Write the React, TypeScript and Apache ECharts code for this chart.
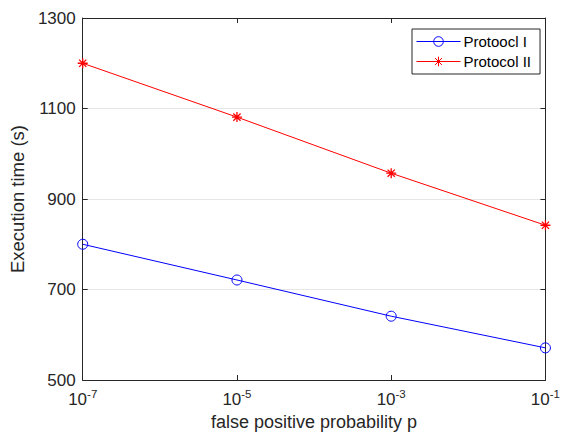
import React, { useEffect, useRef } from "react";
import * as echarts from "echarts";

const probabilities = [1e-7, 1e-5, 1e-3, 1e-1];
const protocolI = [800, 721, 641, 571];
const protocolII = [1200, 1081, 957, 842];
const xTicks = [1e-7, 1e-5, 1e-3, 1e-1];
const yTicks = [500, 700, 900, 1100, 1300];

const asterisk =
  "path://M0,-5L0,5M-5,0L5,0M-3.6,-3.6L3.6,3.6M-3.6,3.6L3.6,-3.6";

export default function App() {
  const ref = useRef<HTMLDivElement>(null);
  useEffect(() => {
    if (!ref.current) return;
    document.body.style.margin = "0";
    const chart = echarts.init(ref.current, null, { renderer: "svg" });
    const font = "Liberation Sans, Arial, Helvetica, sans-serif";
    const axisColor = "#262626";
    const fmtX = (v: number) => {
      const e = Math.round(Math.log10(v));
      return "{b|10}{s|" + e + "}";
    };
    chart.setOption({
      animation: false,
      textStyle: { fontFamily: font },
      grid: { left: 81, right: 10, top: 18, bottom: 59 },
      legend: {
        left: 412,
        top: 29,
        orient: "vertical",
        backgroundColor: "#fff",
        borderColor: axisColor,
        borderWidth: 1,
        borderRadius: 0,
        padding: [5, 9, 5, 4],
        itemGap: 5,
        itemWidth: 44,
        itemHeight: 12,
        lineStyle: { width: 1 },
        itemStyle: { borderWidth: 1 },
        textStyle: { fontSize: 15, color: "#000", fontFamily: font, padding: [0, 0, 0, -2] },
        data: ["Protoocl I", "Protocol II"],
      },
      xAxis: [
        {
          type: "log",
          logBase: 10,
          min: 1e-7,
          max: 1e-1,
          name: "false positive probability p",
          nameLocation: "middle",
          nameGap: 27,
          nameTextStyle: { fontSize: 18, color: axisColor, fontFamily: font },
          axisLine: { lineStyle: { color: axisColor } },
          axisTick: { inside: true, length: 5, customValues: xTicks, lineStyle: { color: axisColor } },
          minorTick: { show: false },
          splitLine: { show: false },
          axisLabel: {
            customValues: xTicks,
            formatter: fmtX,
            margin: 8,
            rich: {
              b: { fontSize: 17, color: axisColor, fontFamily: font, verticalAlign: "bottom" },
              s: { fontSize: 11.5, color: axisColor, fontFamily: font, verticalAlign: "bottom", padding: [0, 0, 8, 0] },
            },
          },
        },
        {
          type: "log",
          logBase: 10,
          min: 1e-7,
          max: 1e-1,
          position: "top",
          axisLine: { lineStyle: { color: axisColor } },
          axisTick: { inside: true, length: 5, customValues: xTicks, lineStyle: { color: axisColor } },
          axisLabel: { show: false },
          splitLine: { show: false },
        },
      ],
      yAxis: [
        {
          type: "value",
          min: 500,
          max: 1300,
          interval: 200,
          name: "Execution time (s)",
          nameLocation: "middle",
          nameGap: 50,
          nameTextStyle: { fontSize: 18.5, color: axisColor, fontFamily: font },
          axisLine: { show: true, lineStyle: { color: axisColor } },
          axisTick: { show: true, inside: true, length: 5, lineStyle: { color: axisColor } },
          axisLabel: {
            fontSize: 17,
            color: axisColor,
            fontFamily: font,
            margin: 7,
            customValues: yTicks,
            formatter: (v: number) => String(v),
          },
          splitLine: { show: true, lineStyle: { color: "#e6e6e6", width: 1 } },
        },
        {
          type: "value",
          min: 500,
          max: 1300,
          interval: 200,
          position: "right",
          axisLine: { show: true, lineStyle: { color: axisColor } },
          axisTick: { show: true, inside: true, length: 5, lineStyle: { color: axisColor } },
          axisLabel: { show: false },
          splitLine: { show: false },
        },
      ],
      series: [
        {
          name: "Protoocl I",
          type: "line",
          data: probabilities.map((p, i) => [p, protocolI[i]]),
          color: "#0000ff",
          lineStyle: { color: "#0000ff", width: 1 },
          symbol: "circle",
          symbolSize: 10,
          showAllSymbol: true,
          itemStyle: { color: "rgba(0,0,0,0)", borderColor: "#0000ff", borderWidth: 1 },
        },
        {
          name: "Protocol II",
          type: "line",
          data: probabilities.map((p, i) => [p, protocolII[i]]),
          color: "#ff0000",
          lineStyle: { color: "#ff0000", width: 1 },
          symbol: asterisk,
          symbolSize: 10,
          itemStyle: { color: "#ff0000", borderColor: "#ff0000", borderWidth: 1.3 },
        },
      ],
    });
    return () => chart.dispose();
  }, []);
  return <div ref={ref} style={{ width: 563, height: 439 }} />;
}
